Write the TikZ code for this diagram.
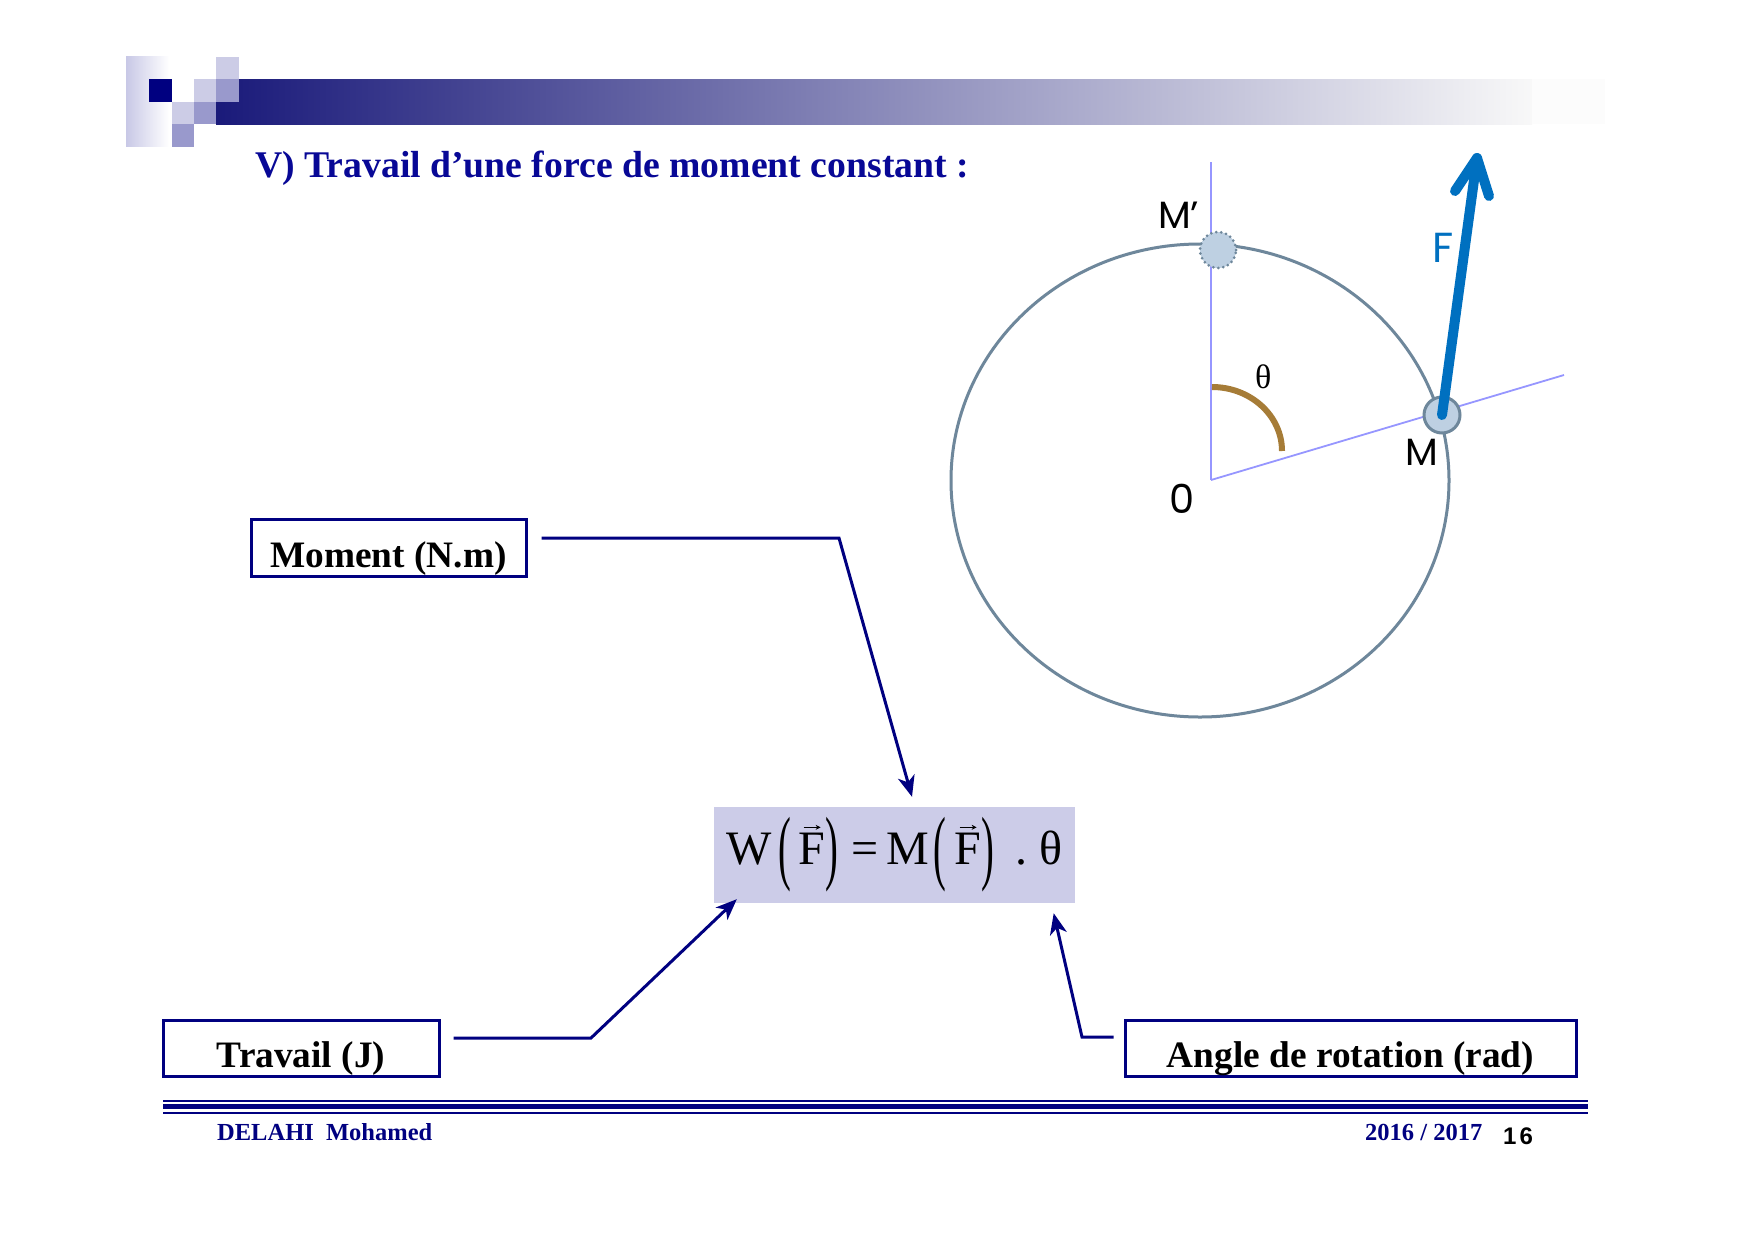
\documentclass[tikz,border=0pt]{standalone}
\usepackage{graphicx}
\usepackage{fontspec}
\setmainfont{Liberation Serif}
\newfontfamily\gothic{Poppins}
\newfontfamily\arialf{Liberation Sans}
\usetikzlibrary{arrows.meta}
\definecolor{navy}{RGB}{0,0,128}
\definecolor{titlecol}{RGB}{8,8,150}
\definecolor{sqlight}{RGB}{204,204,230}
\definecolor{sqmed}{RGB}{153,153,204}
\definecolor{barL}{RGB}{26,26,122}
\definecolor{barM}{RGB}{168,168,188}
\definecolor{barR}{RGB}{248,248,248}
\definecolor{barX}{RGB}{252,252,252}
\definecolor{colL}{RGB}{200,200,230}
\definecolor{circcol}{RGB}{110,135,155}
\definecolor{ptfill}{RGB}{190,208,226}
\definecolor{radcol}{RGB}{150,150,255}
\definecolor{arccol}{RGB}{166,124,55}
\definecolor{fblue}{RGB}{0,112,192}
\definecolor{fboxcol}{RGB}{204,204,232}
\newcommand\myLP{\raisebox{-0.21em}{\scalebox{0.8}[1.72]{(}}}
\newcommand\myRP{\raisebox{-0.21em}{\scalebox{0.8}[1.72]{)}}}
\newcommand\myVF{\leavevmode\rlap{\makebox[0.556em]{\raisebox{0.78em}{\tikz[x=1pt,y=1pt,baseline=0pt]{\draw[black, line width=1.3pt, -{Stealth[length=5pt,width=5pt]}] (0,0) -- (17,0);}}}}F}
\begin{document}
\begin{tikzpicture}[x=1pt,y=-1pt,
  lbox/.style={draw=navy, line width=3pt, fill=white, inner sep=0pt,
    text height=39pt, text depth=0pt,
    font=\fontsize{37.3}{44}\selectfont\bfseries, text=black},
  fbox/.style={fill=fboxcol, inner sep=0pt, font=\fontsize{48}{56}\selectfont},
  conn/.style={draw=navy, line width=3pt, -{Stealth[length=21pt,width=17pt,inset=6pt]}},
  circ/.style={draw=circcol, line width=3pt},
  radline/.style={draw=radcol, line width=1.8pt},
  pt/.style={circle, fill=ptfill, draw=circcol, line width=3pt, minimum size=36pt, inner sep=0pt},
  ptdot/.style={pt, dash pattern=on 0pt off 5pt, line cap=round},
  thetaarc/.style={draw=arccol, line width=6pt},
  farrow/.style={draw=fblue, line width=10pt, line cap=round, line join=round},
  glabel/.style={font=\gothic\fontsize{38}{44}\selectfont, inner sep=0pt, anchor=base west},
  sq/.style={inner sep=0pt, minimum width=22.4pt, minimum height=22.5pt, anchor=north west},
  txt/.style={inner sep=0pt, anchor=base west}
]
\useasboundingbox (0,0) rectangle (1754,1240);
\fill[white] (0,0) rectangle (1754,1240);

% ---------- header ----------
\shade[left color=colL, right color=white] (126,56.5) rectangle (169,146.5);
\shade[left color=barL, middle color=barM, right color=barR] (216.2,79) rectangle (1532,124);
\fill[barX] (1532,79) rectangle (1605,124);
\node[sq, fill=navy]    (s1) at (149,79) {};
\node[sq, fill=sqlight] (s2) at (216.2,56.5) {};
\node[sq, fill=sqlight] (s3) at (193.8,79) {};
\node[sq, fill=sqmed]   (s4) at (216.2,79) {};
\node[sq, fill=sqlight] (s5) at (171.4,101.5) {};
\node[sq, fill=sqmed]   (s6) at (193.8,101.5) {};
\node[sq, fill=sqmed]   (s7) at (171.4,124) {};

\node[txt, font=\fontsize{37.7}{44}\selectfont\bfseries, text=titlecol] (title) at (255,177)
  {V) Travail d’une force de moment constant :};

% ---------- circle figure ----------
\draw[circ] (1200,480.5) ellipse [x radius=249, y radius=236.5];
\coordinate (O) at (1211,480);
\coordinate (vtop) at (1211,162);
\coordinate (rend) at (1564,375);
\draw[radline] (O) -- (vtop);
\draw[radline] (O) -- (rend);
\draw[thetaarc] (1212,387) arc [start angle=-90, end angle=0, x radius=70, y radius=64];
\node[ptdot] (Mp) at (1218,250) {};
\node[pt] (M) at (1442,415) {};
\coordinate (Ftip) at (1477,158);
\coordinate (b1) at (1455,191);
\coordinate (b2) at (1489,196);
\draw[farrow] (M.center) -- (Ftip);
\draw[farrow] (b1) -- (Ftip) -- (b2);

\node[glabel] (lMp) at (1158,228) {M’};
\node[glabel] (lM) at (1405,465) {M};
\node[glabel, font=\gothic\fontsize{42}{48}\selectfont, text=fblue] (lF) at (1432,262) {F};
\node[glabel, font=\gothic\fontsize{40}{46}\selectfont] (lO) at (1169,513) {0};
\node[txt, font=\fontsize{34}{40}\selectfont] (lth) at (1255,388) {θ};

% ---------- formula and labels ----------
\node[fbox, minimum width=361pt, minimum height=96pt] (formula) at (894.5,855)
  {W\hspace{6pt}\myLP\hspace{8pt}\myVF\myRP\hspace{13pt}=\hspace{8pt}M\hspace{4pt}\myLP\hspace{9pt}\myVF\myRP\hspace{21pt}.\hspace{12pt}θ};

\node[lbox, minimum width=275pt, minimum height=57pt] (moment) at (388.5,547.5) {Moment (N.m)};
\node[lbox, minimum width=276pt, minimum height=56pt] (travail) at (301,1048) {Travail (J)};
\node[lbox, minimum width=451pt, minimum height=56pt] (angbox) at (1350.5,1048) {Angle de rotation (rad)};

\coordinate (m1) at ([xshift=14pt,yshift=9.5pt]moment.east);
\coordinate (m2) at (839,538);
\coordinate (m3) at ([xshift=17.5pt,yshift=10pt]formula.north);
\draw[conn] (m1) -- (m2) -- (m3);

\coordinate (t1) at ([xshift=13pt,yshift=10pt]travail.east);
\coordinate (t2) at (591,1038);
\coordinate (t3) at ([xshift=23pt,yshift=4pt]formula.south west);
\draw[conn] (t1) -- (t2) -- (t3);

\coordinate (a1) at ([xshift=-10pt,yshift=11pt]angbox.west);
\coordinate (a2) at (1082,1037);
\coordinate (a3) at ([xshift=-21.5pt,yshift=-10pt]formula.south east);
\draw[conn] (a1) -- (a2) -- (a3);

% ---------- footer ----------
\draw[navy, line width=2pt] (163,1101) -- (1588,1101);
\draw[navy, line width=5pt] (163,1106.8) -- (1588,1106.8);
\draw[navy, line width=2.6pt] (163,1113) -- (1588,1113);
\node[txt, font=\fontsize{24.5}{28}\selectfont\bfseries, text=navy] (author) at (217,1140) {DELAHI\ \ Mohamed};
\node[txt, font=\fontsize{24.5}{28}\selectfont\bfseries, text=navy] (year) at (1365,1140) {2016 / 2017};
\node[txt, font=\arialf\fontsize{24}{28}\selectfont\bfseries] (page) at (1503,1144) {1\hspace{3pt}6};
\end{tikzpicture}
\end{document}
